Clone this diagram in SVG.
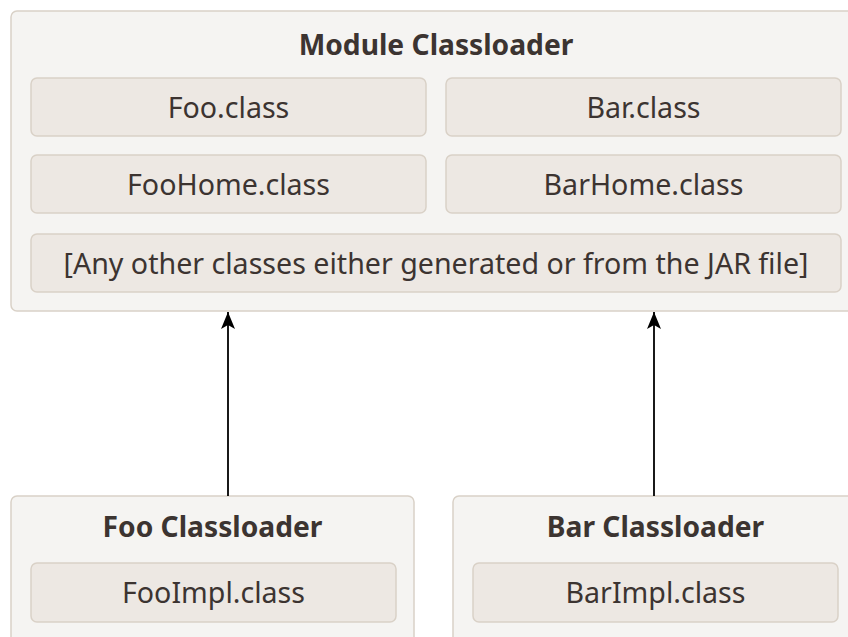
<svg xmlns="http://www.w3.org/2000/svg" width="848" height="637" viewBox="0 0 848 637">
<defs>
<style>
.outer{fill:#f5f4f2;stroke:#d9d1c7;stroke-width:1.5}
.inner{fill:#ede8e3;stroke:#d9d1c7;stroke-width:1.5}
.t{font-family:"Noto Sans","Open Sans",sans-serif;font-size:28.6px;fill:#3c3431;text-anchor:middle}
.b{font-family:"Noto Sans","Open Sans",sans-serif;font-size:28.2px;font-weight:bold;fill:#3c3431;text-anchor:middle}
.c{stroke:#000;stroke-width:1.8;fill:none}
</style>
<marker id="ah" viewBox="0 0 17 14" refX="17" refY="7" markerWidth="17" markerHeight="14" markerUnits="userSpaceOnUse" orient="auto">
<path d="M0,0 L17,7 L0,14 L4,7 Z" fill="#000"/>
</marker>
</defs>
<rect width="848" height="637" fill="#fff"/>
<g id="module">
<rect class="outer" x="11" y="11" width="850" height="300" rx="6"/>
<text class="b" x="436" y="55">Module Classloader</text>
<g id="foo-class"><rect class="inner" x="31" y="78" width="395" height="58" rx="6"/><text class="t" x="228.5" y="118">Foo.class</text></g>
<g id="bar-class"><rect class="inner" x="446" y="78" width="395" height="58" rx="6"/><text class="t" x="643.5" y="118">Bar.class</text></g>
<g id="foohome-class"><rect class="inner" x="31" y="155" width="395" height="58" rx="6"/><text class="t" x="228.5" y="195">FooHome.class</text></g>
<g id="barhome-class"><rect class="inner" x="446" y="155" width="395" height="58" rx="6"/><text class="t" x="643.5" y="195">BarHome.class</text></g>
<g id="other-classes"><rect class="inner" x="31" y="234" width="810" height="58" rx="6"/><text class="t" x="436" y="274">[Any other classes either generated or from the JAR file]</text></g>
</g>
<g id="foo-loader">
<rect class="outer" x="11" y="496" width="403" height="160" rx="6"/>
<text class="b" x="212.5" y="537">Foo Classloader</text>
<g id="fooimpl-class"><rect class="inner" x="31" y="563" width="365" height="59" rx="6"/><text class="t" x="213.5" y="603">FooImpl.class</text></g>
</g>
<g id="bar-loader">
<rect class="outer" x="453" y="496" width="405" height="160" rx="6"/>
<text class="b" x="655.5" y="537">Bar Classloader</text>
<g id="barimpl-class"><rect class="inner" x="473" y="563" width="365" height="59" rx="6"/><text class="t" x="655.5" y="603">BarImpl.class</text></g>
</g>
<g id="connectors">
<line class="c" x1="228" y1="496" x2="228" y2="312" marker-end="url(#ah)"/>
<line class="c" x1="654" y1="496" x2="654" y2="312" marker-end="url(#ah)"/>
</g>
</svg>
